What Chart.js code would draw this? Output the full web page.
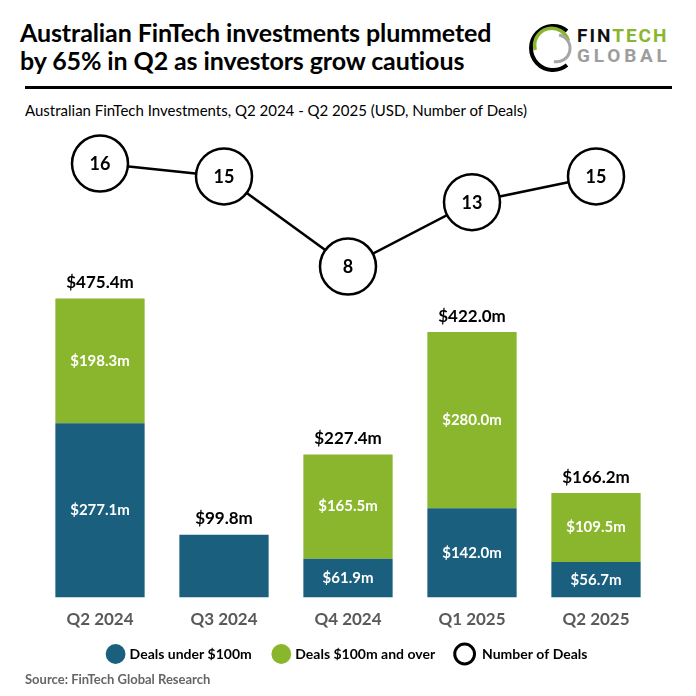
<!DOCTYPE html>
<html>
<head>
<meta charset="utf-8">
<script src="https://cdn.jsdelivr.net/npm/chart.js@4.4.1/dist/chart.umd.min.js"></script>
<style>
  html, body { margin: 0; padding: 0; background: #fff; }
  body { width: 696px; height: 696px; position: relative; overflow: hidden; font-family: Lato, "Open Sans", sans-serif; }
  #title { position: absolute; left: 20px; top: 18px; font-size: 25px; font-weight: 700; line-height: 28px; color: #000; letter-spacing: -0.1px; }
  #rule { position: absolute; left: 25px; top: 86px; width: 647px; height: 3px; background: #000; }
  #subtitle { position: absolute; left: 25px; top: 101px; font-size: 15px; color: #000; }
  #source { position: absolute; left: 25px; top: 671px; font-size: 13px; font-weight: 700; color: #666; }
  #logo { position: absolute; left: 522px; top: 14px; }
  #wrap { position: absolute; left: 0; top: 110px; width: 696px; height: 565px; }
</style>
</head>
<body>
<div id="title">Australian FinTech investments plummeted<br>by 65% in Q2 as investors grow cautious</div>
<svg id="logo" width="174" height="66" viewBox="0 0 174 66">
  <path d="M 45 17 A 22 22 0 1 0 45 51" fill="none" stroke="#000" stroke-width="4"/>
  <path d="M 47 26 A 17 17 0 1 1 19 46" fill="none" stroke="#8ab52e" stroke-width="3.5" transform="rotate(200 31 34)"/>
  <path d="M 44 28 A 12 12 0 0 1 23 45" fill="none" stroke="#a6a6a6" stroke-width="3" transform="rotate(-40 31 34)"/>
  <text x="55" y="28" font-family="Roboto, Inter, sans-serif" font-weight="700" font-size="19" letter-spacing="2"><tspan fill="#111">FIN</tspan><tspan fill="#8ab52e">TECH</tspan></text>
  <text x="55" y="48" font-family="Roboto, Inter, sans-serif" font-weight="700" font-size="19" letter-spacing="3.8" fill="#9d9d9d">GLOBAL</text>
</svg>
<div id="rule"></div>
<div id="subtitle">Australian FinTech Investments, Q2 2024 - Q2 2025 (USD, Number of Deals)</div>
<div id="wrap"><canvas id="c" width="696" height="565"></canvas></div>
<div id="source">Source: FinTech Global Research</div>
<script>
const categories = ["Q2 2024", "Q3 2024", "Q4 2024", "Q1 2025", "Q2 2025"];
const dealsUnder100m = [277.1, 99.8, 61.9, 142.0, 56.7];
const deals100mAndOver = [198.3, 0, 165.5, 280.0, 109.5];
const totalValue = [475.4, 99.8, 227.4, 422.0, 166.2];
const numberOfDeals = [16, 15, 8, 13, 15];
const seriesNames = ["Deals under $100m", "Deals $100m and over", "Number of Deals"];

const BLUE = "#1a5f7e";
const GREEN = "#8ab62d";
const FONT = "Lato, 'Open Sans', sans-serif";
const GAP = "\u2003\u2002";

const labelPlugin = {
  id: "labels",
  afterDatasetsDraw(chart) {
    const ctx = chart.ctx;
    ctx.save();
    ctx.textAlign = "center";
    ctx.textBaseline = "middle";
    const m0 = chart.getDatasetMeta(0), m1 = chart.getDatasetMeta(1), m2 = chart.getDatasetMeta(2);
    ctx.font = "700 15px " + FONT;
    ctx.fillStyle = "#fff";
    categories.forEach((c, i) => {
      if (deals100mAndOver[i] > 0) {
        const b0 = m0.data[i], b1 = m1.data[i];
        ctx.fillText("$" + dealsUnder100m[i].toFixed(1) + "m", b0.x, (b0.y + b0.base) / 2);
        ctx.fillText("$" + deals100mAndOver[i].toFixed(1) + "m", b1.x, (b1.y + b1.base) / 2);
      }
    });
    ctx.font = "700 17px " + FONT;
    ctx.fillStyle = "#000";
    categories.forEach((c, i) => {
      const top = Math.min(m0.data[i].y, m1.data[i].y);
      ctx.fillText("$" + totalValue[i].toFixed(1) + "m", m0.data[i].x, top - 16);
    });
    ctx.font = "700 18px " + FONT;
    m2.data.forEach((p, i) => {
      ctx.fillText(String(numberOfDeals[i]), p.x, p.y + 1);
    });
    ctx.restore();
  }
};

new Chart(document.getElementById("c"), {
  data: {
    labels: categories,
    datasets: [
      { type: "bar", label: seriesNames[0], data: dealsUnder100m, backgroundColor: BLUE, yAxisID: "y", stack: "s", order: 1, barPercentage: 0.72, categoryPercentage: 1.0 },
      { type: "bar", label: seriesNames[1], data: deals100mAndOver, backgroundColor: GREEN, yAxisID: "y", stack: "s", order: 2, barPercentage: 0.72, categoryPercentage: 1.0 },
      { type: "line", label: seriesNames[2], data: numberOfDeals, yAxisID: "y1", order: 0, clip: false, borderColor: "#000", borderWidth: 2.5, pointRadius: 28, pointHoverRadius: 28, pointBackgroundColor: "#fff", pointBorderColor: "#000", pointBorderWidth: 2.5, tension: 0 }
    ]
  },
  options: {
    responsive: false,
    animation: false,
    devicePixelRatio: 1,
    layout: { padding: { left: 38, right: 38, top: 10, bottom: 4 } },
    scales: {
      x: { stacked: true, grid: { display: false, drawTicks: false }, border: { display: false },
           ticks: { color: "#595959", font: { family: FONT, size: 17, weight: "700" }, padding: 12 } },
      y: { stacked: true, display: false, min: 0, max: 726.5 },
      y1: { display: false, min: -17.71, max: 17.79 }
    },
    plugins: {
      tooltip: { enabled: false },
      legend: {
        position: "bottom",
        labels: {
          usePointStyle: true,
          pointStyle: "circle",
          boxHeight: 14,
          padding: 5,
          color: "#000",
          font: { family: FONT, size: 14, weight: "700" },
          generateLabels() {
            return [
              { text: seriesNames[0] + GAP, fillStyle: BLUE, strokeStyle: BLUE, lineWidth: 0, pointStyle: "circle", datasetIndex: 0 },
              { text: seriesNames[1] + GAP, fillStyle: GREEN, strokeStyle: GREEN, lineWidth: 0, pointStyle: "circle", datasetIndex: 1 },
              { text: " " + seriesNames[2], fillStyle: "#fff", strokeStyle: "#000", lineWidth: 3, pointStyle: "circle", datasetIndex: 2 }
            ];
          }
        }
      }
    }
  },
  plugins: [labelPlugin]
});
</script>
</body>
</html>
